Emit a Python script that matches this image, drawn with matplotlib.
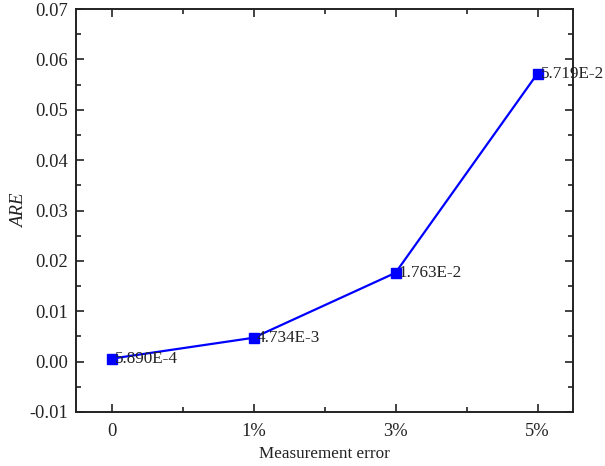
import matplotlib
matplotlib.use("Agg")
import matplotlib.pyplot as plt
from matplotlib.ticker import MultipleLocator

categories = ["0", "1%", "3%", "5%"]
are_values = [5.890e-4, 4.734e-3, 1.763e-2, 5.719e-2]
value_labels = ["5.890E-4", "4.734E-3", "1.763E-2", "5.719E-2"]

plt.rcParams['font.family'] = ['Liberation Serif', 'DejaVu Serif']

fig = plt.figure(figsize=(6.05, 4.66), dpi=100)
ax = fig.add_axes([76/605, 1 - 412/466, (573-76)/605, (412-9)/466])

x = list(range(len(categories)))
ax.plot(x, are_values, color='#0000ff', lw=1.6, marker='s', ms=7, mfc='#0000ff', mec='#0000ff')
for xi, yi, lab in zip(x, are_values, value_labels):
    ax.annotate(lab, (xi, yi), xytext=(2.5, 0), textcoords='offset points',
                ha='left', va='center', fontsize=12.3, color='#222222')

ax.set_xlim(-0.25, 3.25)
ax.set_ylim(-0.01, 0.07)
ax.set_xticks(x)
ax.set_xticklabels(categories)
ax.xaxis.set_minor_locator(MultipleLocator(0.5))
ax.yaxis.set_major_locator(MultipleLocator(0.01))
ax.yaxis.set_minor_locator(MultipleLocator(0.005))
ax.yaxis.set_major_formatter(matplotlib.ticker.FuncFormatter(lambda v, p: f"{v:.2f}"))
ax.tick_params(which='both', direction='in', top=True, right=True, labelsize=13.3, colors='#222222', width=1.2)
ax.tick_params(which='major', length=6)
ax.tick_params(axis='y', which='major', pad=5.5)
ax.tick_params(axis='x', which='major', pad=8)
ax.tick_params(which='minor', length=3.5)
for s in ax.spines.values():
    s.set_linewidth(1.4)
    s.set_color('#222222')

ax.set_xlabel("Measurement error", fontsize=12.3, color='#222222', labelpad=4)
ax.set_ylabel("ARE", fontsize=13.5, style='italic', color='#222222', labelpad=1)

fig.savefig("out.png", dpi=100)
